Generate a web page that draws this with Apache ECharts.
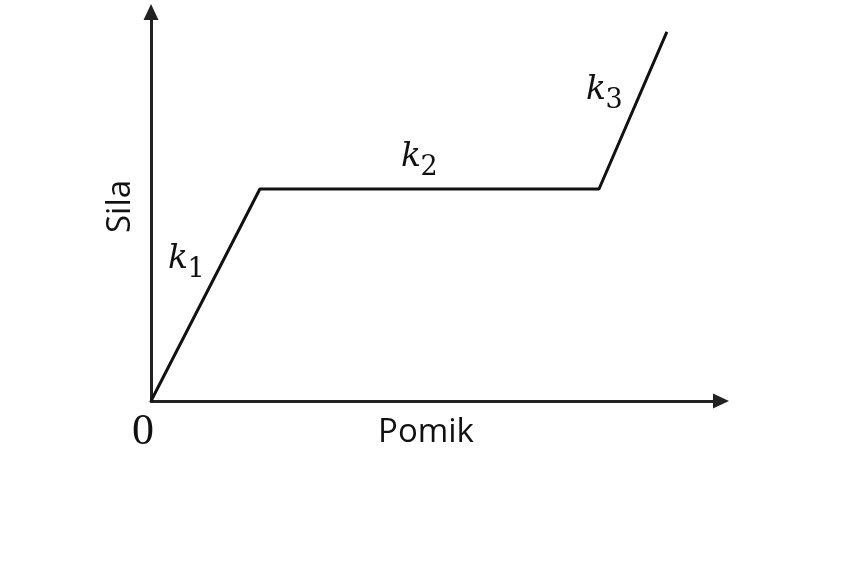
<!DOCTYPE html>
<html>
<head>
<meta charset="utf-8">
<script src="https://cdn.jsdelivr.net/npm/echarts@6/dist/echarts.min.js"></script>
<style>html,body{margin:0;padding:0;background:#fff;}#c{width:851px;height:579px;}</style>
</head>
<body>
<div id="c"></div>
<script>
// Data (arbitrary units: displacement vs force)
var displacement = [0, 19.1, 78.6, 90.5];
var force = [0, 54.5, 54.5, 94.9];
var xName = 'Pomik';
var yName = 'Sila';
var originLabel = '0';
var segLabels = ['1', '2', '3'];

var chart = echarts.init(document.getElementById('c'), null, {renderer: 'canvas'});
var pts = displacement.map(function (x, i) { return [x, force[i]]; });

function kLabel(cx, cy, sub) {
  return [
    {type: 'text', x: cx, y: cy, style: {text: 'k', font: 'italic 33px "DejaVu Serif"', fill: '#111', textAlign: 'center', textVerticalAlign: 'middle'}},
    {type: 'text', x: cx + 18, y: cy + 11, style: {text: sub, font: '27px "DejaVu Serif"', fill: '#111', textAlign: 'center', textVerticalAlign: 'middle'}}
  ];
}

var graphics = []
  .concat(kLabel(178, 259, segLabels[0]))
  .concat(kLabel(411, 157, segLabels[1]))
  .concat(kLabel(596, 90, segLabels[2]))
  .concat([
    {type: 'text', x: 426, y: 433, style: {text: xName, font: '33px "Open Sans"', fill: '#111', textAlign: 'center', textVerticalAlign: 'middle'}},
    {type: 'text', x: 143, y: 432, style: {text: originLabel, font: '44px "Liberation Serif"', fill: '#111', textAlign: 'center', textVerticalAlign: 'middle'}}
  ]);

chart.setOption({
  animation: false,
  backgroundColor: '#fff',
  grid: {left: 151, right: 130, top: 12, bottom: 178},
  xAxis: {
    type: 'value', min: 0, max: 100,
    axisLine: {show: true, symbol: ['none', 'triangle'], symbolSize: [15, 16], lineStyle: {color: '#222', width: 3}},
    axisTick: {show: false}, axisLabel: {show: false}, splitLine: {show: false}
  },
  yAxis: {
    type: 'value', min: 0, max: 100,
    name: yName, nameLocation: 'middle', nameRotate: 90, nameGap: 14,
    nameTextStyle: {fontFamily: 'Open Sans', fontSize: 33, color: '#111'},
    axisLine: {show: true, symbol: ['none', 'triangle'], symbolSize: [15, 16], lineStyle: {color: '#222', width: 3}},
    axisTick: {show: false}, axisLabel: {show: false}, splitLine: {show: false}
  },
  series: [{
    type: 'line', data: pts, symbol: 'none',
    lineStyle: {color: '#111', width: 3}
  }],
  graphic: graphics
});
</script>
</body>
</html>
